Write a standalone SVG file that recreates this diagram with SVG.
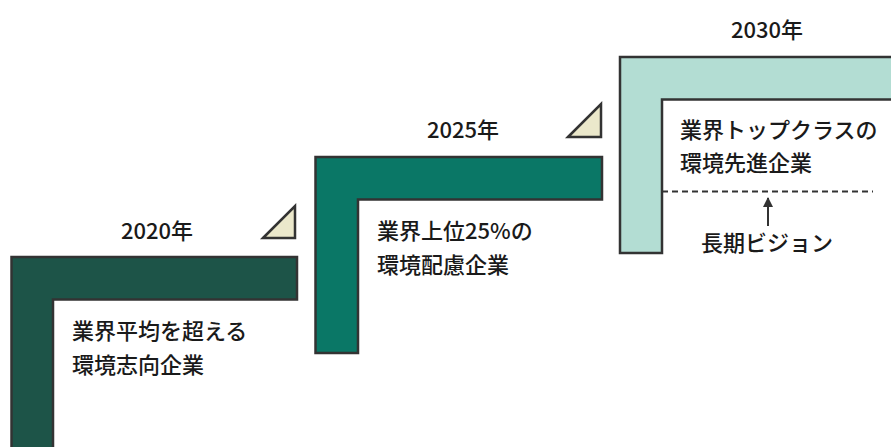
<svg xmlns="http://www.w3.org/2000/svg" width="891" height="447" viewBox="0 0 891 447">
<style>
.step{stroke:#333;stroke-width:2.5;stroke-linejoin:miter}
.year{font-family:"Noto Sans CJK JP","Noto Sans",sans-serif;font-size:22px;font-weight:500;fill:#1a1a1a;text-anchor:middle}
.body{font-family:"Noto Sans CJK JP","Noto Sans",sans-serif;font-size:22px;font-weight:500;fill:#1a1a1a}
.tri{fill:#ebe8cb;stroke:#333;stroke-width:2.5;stroke-linejoin:miter}
</style>
<defs>
<marker id="ah" viewBox="0 0 10 10" refX="9" refY="5" markerWidth="5" markerHeight="6" orient="auto" markerUnits="strokeWidth">
<path d="M0,0 L10,5 L0,10 z" fill="#333"/>
</marker>
</defs>
<rect width="891" height="447" fill="#fff"/>
<g id="step2020">
<path class="step" fill="#1d5448" d="M11.5,257 H297 V299.5 H53 V450 H11.5 Z"/>
<polygon class="tri" points="263,238 295,206 295,238"/>
<text class="year" x="157" y="239">2020年</text>
<text class="body" x="72" y="339">業界平均を超える</text>
<text class="body" x="72" y="373">環境志向企業</text>
</g>
<g id="step2025">
<path class="step" fill="#0a7766" d="M315.5,157 H602 V199.5 H358 V353 H315.5 Z"/>
<polygon class="tri" points="568,137 601,104 601,137"/>
<text class="year" x="463" y="138">2025年</text>
<text class="body" x="377" y="239">業界上位25%の</text>
<text class="body" x="377" y="273">環境配慮企業</text>
</g>
<g id="step2030">
<path class="step" fill="#b3ddd3" d="M620,57 H895 V99.5 H662 V253 H620 Z"/>
<text class="year" x="767" y="38">2030年</text>
<text class="body" x="680" y="138">業界トップクラスの</text>
<text class="body" x="680" y="171">環境先進企業</text>
</g>
<g id="vision">
<text class="body" x="767" y="251" style="text-anchor:middle">長期ビジョン</text>
</g>
<g id="connectors">
<line x1="662" y1="191.5" x2="873" y2="191.5" stroke="#333" stroke-width="2" stroke-dasharray="6,4"/>
<line x1="768" y1="226" x2="768" y2="198" stroke="#333" stroke-width="2" marker-end="url(#ah)"/>
</g>
</svg>
